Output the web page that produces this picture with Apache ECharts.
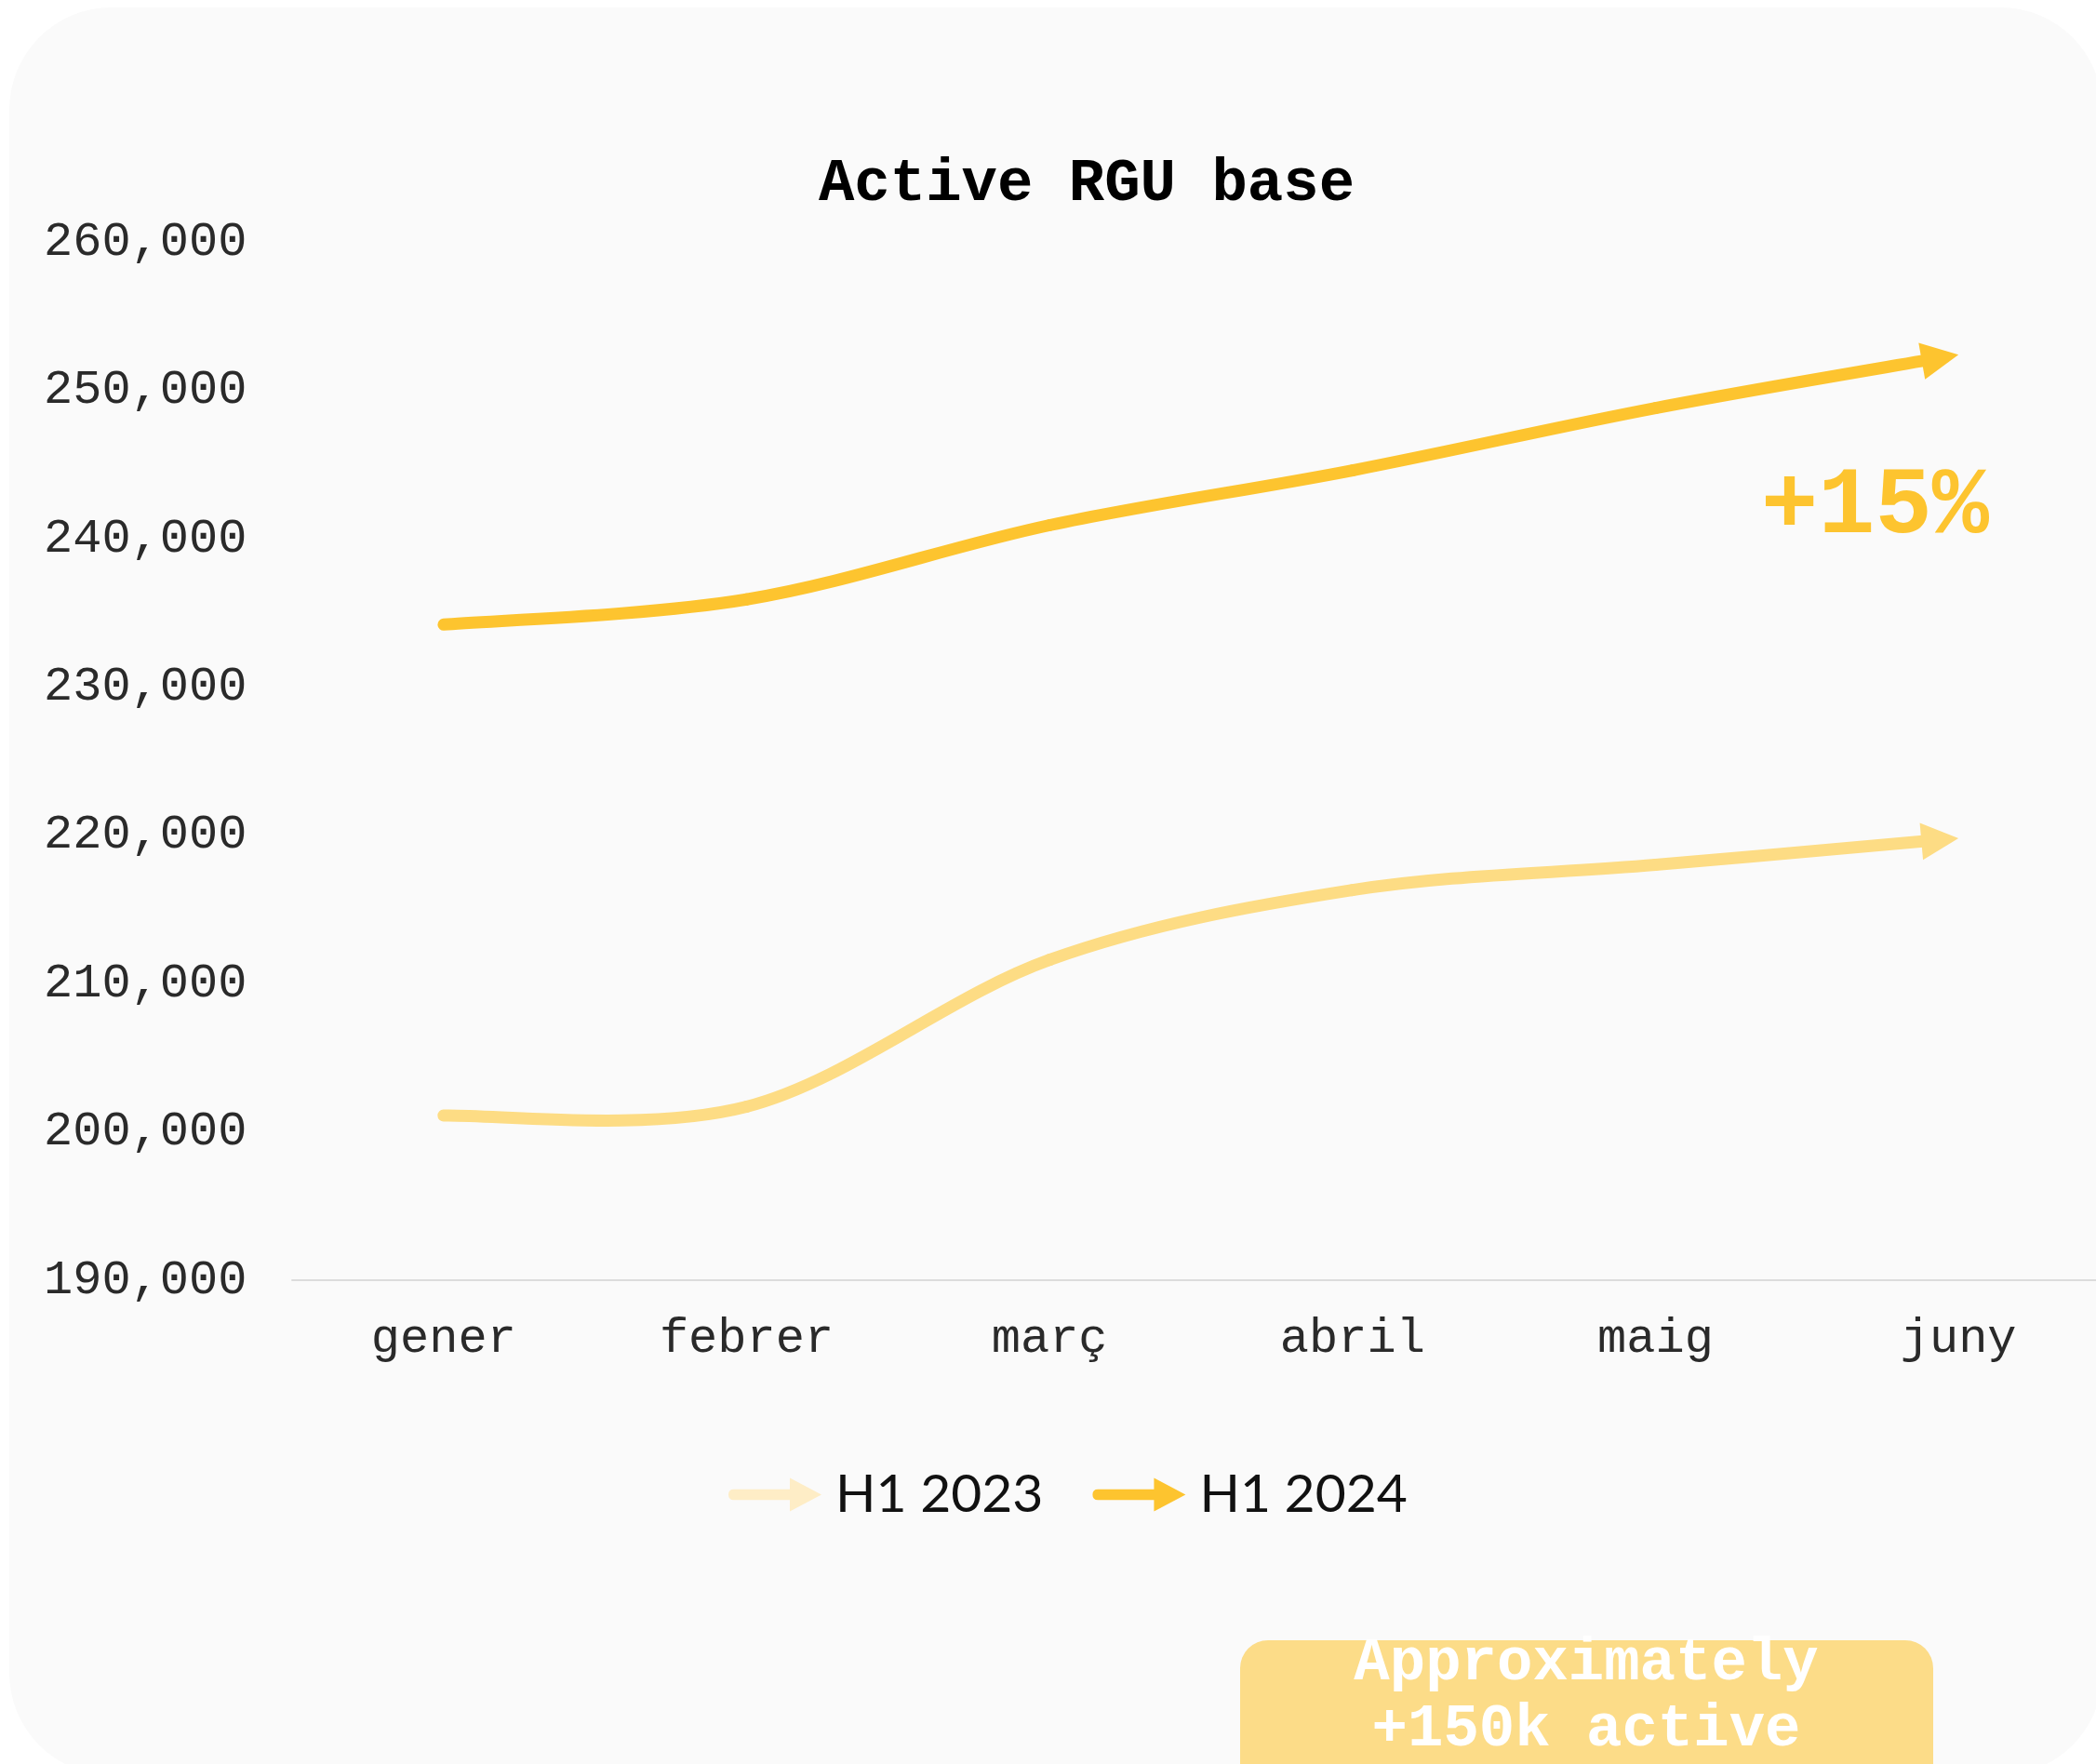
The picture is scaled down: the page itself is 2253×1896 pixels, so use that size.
<!DOCTYPE html>
<html>
<head>
<meta charset="utf-8">
<script src="https://cdn.jsdelivr.net/npm/echarts@6/dist/echarts.min.js"></script>
<style>
  html, body { margin: 0; padding: 0; background: #fff; overflow: hidden; }
  #chart { width: 2290px; height: 1896px; }
</style>
</head>
<body>
<div id="chart"></div>
<script>
const months = ['gener', 'febrer', 'març', 'abril', 'maig', 'juny']
const h2023 = [201100, 201700, 211600, 216300, 218000, 219800]
const h2024 = [234200, 235900, 240900, 244600, 248800, 252400]
const yMin = 190000
const yMax = 260000
const yStep = 10000

const mono = "'Liberation Mono', 'Courier New', monospace"
const c2023 = '#fddc84'
const c2024 = '#fdc42f'
const legendIcon = 'path://M6,12.5 L68,12.5 L68,0 L103,18.5 L68,37 L68,24.5 L6,24.5 Q0,24.5 0,18.5 Q0,12.5 6,12.5 Z'

const chart = echarts.init(document.getElementById('chart'))

// catmull-rom style curve through the points, with an arrow head on the last one
function curveSeries(name, vals, color) {
  const k = 1 / 6
  const lw = 13
  return {
    name: name,
    type: 'custom',
    data: vals.map((v, i) => [i, v]),
    encode: { x: 0, y: 1 },
    itemStyle: { color: color },
    z: 3,
    renderItem(params, api) {
      const i = params.dataIndex
      const pts = vals.map((v, j) => api.coord([j, v]))
      const n = pts.length
      if (i === n - 1) {
        const p = pts[n - 1]
        const q = pts[n - 2]
        const cx = p[0] - (p[0] - q[0]) * k
        const cy = p[1] - (p[1] - q[1]) * k
        const len = Math.hypot(p[0] - cx, p[1] - cy)
        const dx = (p[0] - cx) / len
        const dy = (p[1] - cy) / len
        const bx = p[0] - 40 * dx
        const by = p[1] - 40 * dy
        return {
          type: 'polygon',
          shape: { points: [p, [bx - 20 * dy, by + 20 * dx], [bx + 20 * dy, by - 20 * dx]] },
          style: { fill: color }
        }
      }
      const p0 = pts[Math.max(i - 1, 0)]
      const p1 = pts[i]
      const p2 = pts[i + 1]
      const p3 = pts[Math.min(i + 2, n - 1)]
      let cp1 = [p1[0] + (p2[0] - p0[0]) * k, p1[1] + (p2[1] - p0[1]) * k]
      let cp2 = [p2[0] - (p3[0] - p1[0]) * k, p2[1] - (p3[1] - p1[1]) * k]
      let end = p2
      if (i === n - 2) {
        // stop the stroke under the arrow head
        const len = Math.hypot(p2[0] - cp2[0], p2[1] - cp2[1])
        const dx = (p2[0] - cp2[0]) / len
        const dy = (p2[1] - cp2[1]) / len
        end = [p2[0] - 16 * dx, p2[1] - 16 * dy]
        cp2 = [cp2[0] - 16 * dx, cp2[1] - 16 * dy]
      }
      return {
        type: 'bezierCurve',
        shape: {
          x1: p1[0], y1: p1[1], x2: end[0], y2: end[1],
          cpx1: cp1[0], cpy1: cp1[1], cpx2: cp2[0], cpy2: cp2[1]
        },
        style: { stroke: color, lineWidth: lw, lineCap: 'round', fill: null }
      }
    }
  }
}

const option = {
  animation: false,
  backgroundColor: '#ffffff',
  title: {
    text: 'Active RGU base',
    left: 1163,
    top: 162,
    textAlign: 'center',
    textStyle: { fontFamily: mono, fontWeight: 'bold', fontSize: 64, color: '#000' }
  },
  legend: {
    left: 778,
    top: 1573,
    icon: legendIcon,
    itemWidth: 100,
    itemHeight: 36,
    itemGap: 53,
    textStyle: { fontFamily: 'Lato', fontSize: 57, color: '#111', padding: [0, 0, 0, 10] },
    data: [
      { name: 'H1 2023', itemStyle: { color: '#feedc6' } },
      { name: 'H1 2024', itemStyle: { color: c2024 } }
    ]
  },
  grid: { left: 314, top: 260, width: 1954, height: 1116 },
  xAxis: {
    type: 'category',
    data: months,
    boundaryGap: true,
    axisLine: { lineStyle: { color: '#dcdcdc', width: 2 } },
    axisTick: { show: false },
    axisLabel: { fontFamily: mono, fontSize: 52, color: '#2a2a2a', margin: 37 }
  },
  yAxis: {
    type: 'value',
    min: yMin,
    max: yMax,
    interval: yStep,
    splitLine: { show: false },
    axisLine: { show: false },
    axisTick: { show: false },
    axisLabel: {
      fontFamily: mono,
      fontSize: 52,
      color: '#2a2a2a',
      align: 'left',
      margin: 267,
      formatter: v => v.toLocaleString('en-US')
    }
  },
  graphic: [
    {
      type: 'rect',
      z: -10,
      shape: { x: 10, y: 8, width: 2250, height: 1900, r: 110 },
      style: { fill: '#fafafa' }
    },
    {
      type: 'text',
      x: 1893,
      y: 546,
      style: {
        text: '+15%',
        fill: c2024,
        font: 'bold 102px ' + mono,
        textAlign: 'left',
        textVerticalAlign: 'middle'
      }
    },
    {
      type: 'rect',
      shape: { x: 1333, y: 1763, width: 745, height: 200, r: 30 },
      style: { fill: '#fcdc88' }
    },
    {
      type: 'text',
      x: 1705,
      y: 1789,
      style: {
        text: 'Approximately',
        fill: '#fff',
        font: 'bold 64px ' + mono,
        textAlign: 'center',
        textVerticalAlign: 'middle'
      }
    },
    {
      type: 'text',
      x: 1705,
      y: 1860,
      style: {
        text: '+150k active',
        fill: '#fff',
        font: 'bold 64px ' + mono,
        textAlign: 'center',
        textVerticalAlign: 'middle'
      }
    }
  ],
  series: [curveSeries('H1 2023', h2023, c2023), curveSeries('H1 2024', h2024, c2024)]
}

chart.setOption(option)
</script>
</body>
</html>
